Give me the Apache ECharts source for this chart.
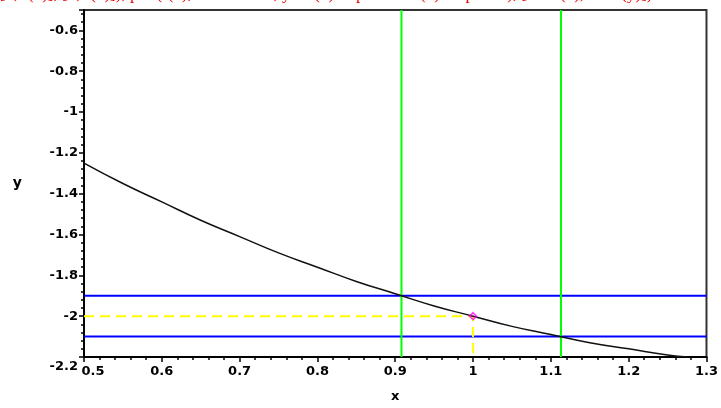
<!DOCTYPE html>
<html>
<head>
<meta charset="utf-8">
<script src="https://cdn.jsdelivr.net/npm/echarts@6/dist/echarts.min.js"></script>
<style>html,body{margin:0;padding:0;background:#fff}#c{width:721px;height:408px}</style>
</head>
<body>
<div id="c"></div>
<script>
// ---- data ----
const xRange = [0.5, 1.3];
const yRange = [-2.2, -0.5];
const curveX = [0.5, 0.55, 0.6, 0.65, 0.7, 0.75, 0.8, 0.85, 0.9, 0.95, 1.0, 1.05, 1.1, 1.15, 1.2, 1.25, 1.276];
const curveY = [-1.25, -1.35, -1.44, -1.53, -1.61, -1.69, -1.76, -1.83, -1.89, -1.95, -2.0, -2.05, -2.09, -2.13, -2.16, -2.19, -2.2];
const blueY = [-1.9, -2.1];
const greenX = [0.908, 1.113];
const pointX = [1.0];
const pointY = [-2.0];
const titleText = "([1, f(1)], [1, f(1)]), plot(f(x), x = .5 .. 1.3, y = f(1) - epsilon .. f(1) + epsilon), [delta(x), delta(y)])";

const fmt = v => String(parseFloat(Number(v).toFixed(2)));
const labelFont = {fontFamily: 'DejaVu Sans', fontWeight: 'bold', fontSize: 13, color: '#000'};

const series = [];
blueY.forEach(y => series.push({
  type: 'line', data: [[xRange[0], y], [xRange[1], y]], symbol: 'none', silent: true,
  lineStyle: {color: '#0000ff', width: 2}, z: 2
}));
greenX.forEach(x => series.push({
  type: 'line', data: [[x, yRange[0]], [x, yRange[1]]], symbol: 'none', silent: true,
  lineStyle: {color: '#00ff00', width: 2}, z: 2
}));
series.push({
  type: 'line', data: [[xRange[0], pointY[0]], [pointX[0], pointY[0]], [pointX[0], yRange[0]]],
  symbol: 'none', lineStyle: {color: '#ffff00', width: 2, type: [10, 6]}, z: 2
});
series.push({
  type: 'line', data: curveX.map((x, i) => [x, curveY[i]]), symbol: 'none', smooth: true,
  lineStyle: {color: '#111', width: 1.5}, z: 3
});
series.push({
  type: 'scatter', data: pointX.map((x, i) => [x, pointY[i]]), symbol: 'diamond', symbolSize: 7,
  itemStyle: {color: 'rgba(255,0,255,0.15)', borderColor: '#ff00ff', borderWidth: 1.5}, z: 4
});

const chart = echarts.init(document.getElementById('c'), null, {renderer: 'canvas'});
chart.setOption({
  animation: false,
  backgroundColor: '#fff',
  graphic: [{
    type: 'text', left: -6, top: -14, silent: true,
    style: {text: titleText, fill: '#ee0000', font: '17px "Liberation Serif"'}
  }],
  grid: {left: 84, right: 12, top: 10, bottom: 49, show: true, borderColor: '#333', borderWidth: 2, backgroundColor: 'transparent'},
  xAxis: {
    type: 'value', min: xRange[0], max: xRange[1], interval: 0.1,
    name: 'x', nameLocation: 'middle', nameGap: 33,
    nameTextStyle: {fontFamily: 'DejaVu Sans', fontWeight: 'bold', fontSize: 13, color: '#000'},
    splitLine: {show: false},
    axisLine: {lineStyle: {color: '#000', width: 2}},
    axisTick: {length: 5, lineStyle: {color: '#000', width: 1.5}},
    minorTick: {show: true, splitNumber: 5, length: 3, lineStyle: {color: '#000', width: 1.5}},
    axisLabel: Object.assign({margin: 8, formatter: v => Math.abs(v - xRange[0]) < 1e-9 ? '{a|' + fmt(v) + '}' : fmt(v),
      rich: {a: {fontFamily: 'DejaVu Sans', fontWeight: 'bold', fontSize: 13, color: '#000', padding: [0, 0, 0, 18]}}}, labelFont)
  },
  yAxis: {
    type: 'value', min: yRange[0], max: yRange[1], interval: 0.2,
    name: 'y', nameLocation: 'middle', nameGap: 62, nameRotate: 0,
    nameTextStyle: {fontFamily: 'DejaVu Sans', fontWeight: 'bold', fontSize: 14, color: '#000'},
    splitLine: {show: false},
    axisLine: {lineStyle: {color: '#000', width: 2}},
    axisTick: {length: 5, lineStyle: {color: '#000', width: 1.5}},
    minorTick: {show: true, splitNumber: 5, length: 3, lineStyle: {color: '#000', width: 1.5}},
    axisLabel: Object.assign({margin: 6, showMaxLabel: false,
      formatter: v => Math.abs(v - yRange[0]) < 1e-9 ? '{a|' + fmt(v) + '}' : fmt(v),
      rich: {a: {fontFamily: 'DejaVu Sans', fontWeight: 'bold', fontSize: 13, color: '#000', padding: [20, 0, 0, 0]}}}, labelFont)
  },
  series: series
});
</script>
</body>
</html>
